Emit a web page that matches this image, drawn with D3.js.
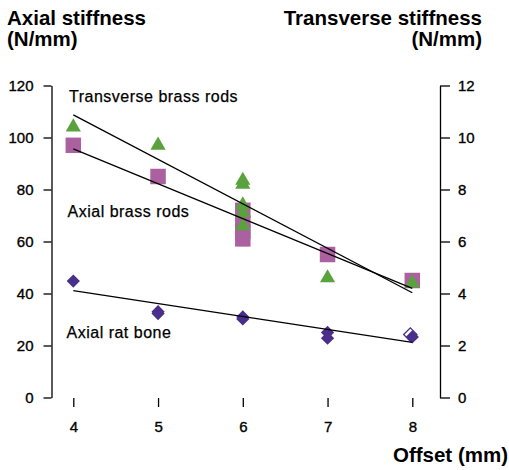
<!DOCTYPE html>
<html>
<head>
<meta charset="utf-8">
<script src="https://cdn.jsdelivr.net/npm/d3@7"></script>
<style>
  body { margin: 0; background: #fff; }
  svg { display: block; font-family: "Liberation Sans", Arial, Helvetica, sans-serif; }
  .axis path, .axis line { stroke: #000; stroke-width: 1.3; }
  .axis text { font-size: 15px; fill: #000; stroke: #000; stroke-width: 0.35; }
</style>
</head>
<body>
<div id="chart"></div>
<script>
// data
const offsetTicks = [4, 5, 6, 7, 8];
const leftTicks = [0, 20, 40, 60, 80, 100, 120];
const rightTicks = [0, 2, 4, 6, 8, 10, 12];

// axial brass rods (left axis)
const brassAxialX = [4, 5, 6, 6, 6, 6, 7, 8];
const brassAxialY = [97, 85, 72, 67, 64, 61, 55, 45];

// transverse brass rods (right axis)
const brassTransX = [4, 5, 6, 6, 6, 6, 6, 7, 8];
const brassTransY = [10.4, 9.7, 8.35, 8.2, 7.4, 7.1, 6.6, 4.6, 4.4];

// axial rat bone (left axis), open = hollow marker
const boneX = [4, 5, 5, 6, 6, 7, 7, 8, 8];
const boneY = [44.8, 33, 32.3, 31, 30.2, 25, 22.8, 24.2, 23.3];
const boneOpen = [false, false, false, false, false, false, false, true, false];

// fitted lines
const fitX = [4, 8];
const fitTrans = [10.87, 4.03];
const fitAxial = [95.6, 42];
const fitBone = [41.1, 21.2];

const W = 509, H = 470;
const svg = d3.select("#chart").append("svg")
  .attr("width", W).attr("height", H);

const x = d3.scaleLinear().domain([4, 8]).range([73.3, 412.3]);
const y = d3.scaleLinear().domain([0, 120]).range([397.5, 85.5]);
const yR = d3.scaleLinear().domain([0, 12]).range([397.5, 85.5]);

const green = "#5aa23e", pink = "#ab619f", purple = "#4a2e8b";

// axes
svg.append("g").attr("class", "axis")
  .attr("transform", "translate(51.5,0)")
  .call(d3.axisLeft(y).tickValues(leftTicks).tickSize(8).tickSizeOuter(0).tickPadding(10));

svg.append("g").attr("class", "axis")
  .attr("transform", "translate(440,0)")
  .call(d3.axisRight(yR).tickValues(rightTicks).tickSize(10).tickSizeOuter(0).tickPadding(8));

const xAxis = svg.append("g").attr("class", "axis")
  .attr("transform", "translate(0,398)")
  .call(d3.axisBottom(x).tickValues(offsetTicks).tickFormat(d3.format("d"))
    .tickSize(9).tickPadding(14));
xAxis.select(".domain").remove();

// markers
const square = d3.symbol().type(d3.symbolSquare).size(240)();
const triangle = d3.symbol().type(d3.symbolTriangle).size(100)();
const diamond = d3.symbol().type(d3.symbolSquare).size(88)();

svg.append("g").selectAll("path")
  .data(brassAxialX.map((d, i) => ({ x: d, y: brassAxialY[i] })))
  .join("path")
  .attr("d", square)
  .attr("transform", d => `translate(${x(d.x)},${y(d.y)})`)
  .attr("fill", pink);

svg.append("g").selectAll("path")
  .data(brassTransX.map((d, i) => ({ x: d, y: brassTransY[i] })))
  .join("path")
  .attr("d", triangle)
  .attr("transform", d => `translate(${x(d.x)},${yR(d.y)})`)
  .attr("fill", green);

svg.append("g").selectAll("path")
  .data(boneX.map((d, i) => ({ x: d, y: boneY[i], open: boneOpen[i] })))
  .join("path")
  .attr("d", diamond)
  .attr("transform", d => `translate(${x(d.x) - (d.open ? 2 : 0)},${y(d.y)}) rotate(45)`)
  .attr("fill", d => d.open ? "#fff" : purple)
  .attr("stroke", purple)
  .attr("stroke-width", d => d.open ? 1.3 : 0);

// fitted lines
const fits = [
  { ys: fitTrans, scale: yR },
  { ys: fitAxial, scale: y },
  { ys: fitBone, scale: y }
];
fits.forEach(f => {
  svg.append("path")
    .datum(fitX.map((d, i) => [d, f.ys[i]]))
    .attr("d", d3.line().x(d => x(d[0])).y(d => f.scale(d[1])))
    .attr("fill", "none")
    .attr("stroke", "#000")
    .attr("stroke-width", 1.3);
});

// series labels
const labels = [
  { t: "Transverse brass rods", x: 69, y: 102 },
  { t: "Axial brass rods", x: 67.5, y: 217 },
  { t: "Axial rat bone", x: 66.5, y: 337.5 }
];
svg.append("g").selectAll("text")
  .data(labels)
  .join("text")
  .attr("x", d => d.x).attr("y", d => d.y)
  .style("font-size", "16px")
  .style("letter-spacing", "0.5px")
  .style("stroke", "#000")
  .style("stroke-width", 0.25)
  .text(d => d.t);

// axis titles
const title = (t, xx, yy, anchor) => svg.append("text")
  .attr("x", xx).attr("y", yy)
  .attr("text-anchor", anchor)
  .style("font-size", "20.5px")
  .style("font-weight", "bold")
  .text(t);

title("Axial stiffness", 7, 25, "start");
title("(N/mm)", 7, 46, "start");
title("Transverse stiffness", 482, 25, "end");
title("(N/mm)", 482, 46, "end");
title("Offset (mm)", 508, 462, "end");
</script>
</body>
</html>
